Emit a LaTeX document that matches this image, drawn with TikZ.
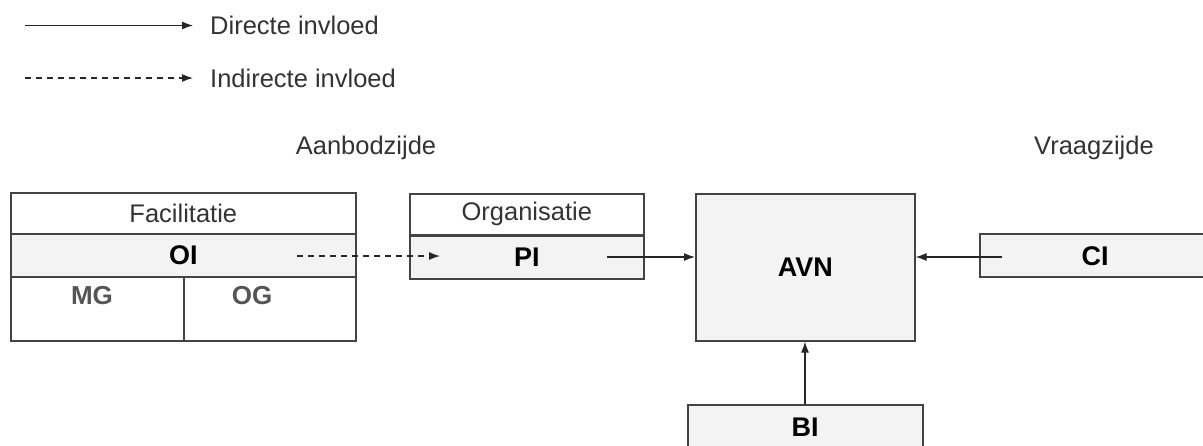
\documentclass[tikz,border=0pt]{standalone}
\usepackage{fontspec}
\setmainfont{Liberation Sans}
\usetikzlibrary{arrows.meta}
\definecolor{bordc}{HTML}{434343}
\definecolor{fillc}{HTML}{F3F3F3}
\definecolor{txtc}{HTML}{333333}
\definecolor{graytxt}{HTML}{555555}
\tikzset{
  cell/.style={draw=bordc, line width=1.6pt, inner sep=0pt, anchor=north west},
  shaded/.style={cell, fill=fillc},
  reg/.style={font=\fontsize{25.5}{30}\selectfont, text=txtc, inner sep=0pt},
  bld/.style={font=\fontsize{27}{32}\selectfont\bfseries, text=black, inner sep=0pt},
  grb/.style={font=\fontsize{26}{31}\selectfont\bfseries, text=graytxt, inner sep=0pt},
  arr/.style={line width=1.2pt, draw=black!85, -{Latex[length=11pt,width=8pt]}},
}
\begin{document}
\begin{tikzpicture}[x=1pt,y=-1pt]
\useasboundingbox (0,0) rectangle (1203,445);
\clip (0,0) rectangle (1203,445);
% legend
\coordinate (l1a) at (25,25.5);
\coordinate (l1b) at (193,25.5);
\coordinate (l2a) at (25,78);
\coordinate (l2b) at (193,78);
\draw[arr] (l1a) -- (l1b);
\draw[arr, dashed, dash pattern=on 6pt off 5pt] (l2a) -- (l2b);
\node[reg, anchor=west] (ld) at (210,25) {Directe invloed};
\node[reg, anchor=west] (li) at (210,78) {Indirecte invloed};
% side labels
\node[reg] (aanbod) at (366,148) {Aanbodzijde};
\node[reg] (vraag) at (1094,148) {Vraagzijde};
% Facilitatie block
\node[cell, minimum width=345pt, minimum height=41pt] (fac) at (10,192) {};
\node[shaded, minimum width=345pt, minimum height=43pt] (oi) at (10,233) {};
\node[cell, minimum width=173pt, minimum height=64pt] (mg) at (10,276) {};
\node[cell, minimum width=172pt, minimum height=64pt] (og) at (183,276) {};
\node[reg] (factxt) at (fac.center) {Facilitatie};
\node[bld] (oitxt) at (oi.center) {OI};
\node[grb] (mgtxt) at (92,296) {MG};
\node[grb] (ogtxt) at (252,296) {OG};
% Organisatie block
\node[cell, minimum width=234pt, minimum height=41pt] (org) at (409,193) {};
\node[shaded, minimum width=234pt, minimum height=44pt] (pi) at (409,234) {};
\draw[draw=bordc, line width=2.6pt] (org.south west) -- (org.south east);
\node[reg] (orgtxt) at (org.center) {Organisatie};
\node[bld] (pitxt) at (pi.center) {PI};
% AVN
\node[shaded, minimum width=219pt, minimum height=147pt] (avn) at (695,193) {};
\node[bld] (avntxt) at (avn.center) {AVN};
% CI
\node[shaded, minimum width=240pt, minimum height=43pt] (ci) at (979,233) {};
\node[bld] (citxt) at (1095,256) {CI};
% BI
\node[shaded, minimum width=235pt, minimum height=60pt] (bi) at (687,404) {};
\node[bld] (bitxt) at (805,427) {BI};
% connectors
\coordinate (oiS) at (297,256);
\coordinate (piE) at (440,256);
\coordinate (piS) at (607,257);
\coordinate (ciS) at (1002,257);
\draw[arr, dashed, dash pattern=on 6pt off 5pt] (oiS) -- (piE);
\draw[arr] (piS) -- (piS -| avn.west);
\draw[arr] (ciS) -- (ciS -| avn.east);
\draw[arr] (bi.north -| bitxt) -- (bitxt |- avn.south);
\end{tikzpicture}
\end{document}
